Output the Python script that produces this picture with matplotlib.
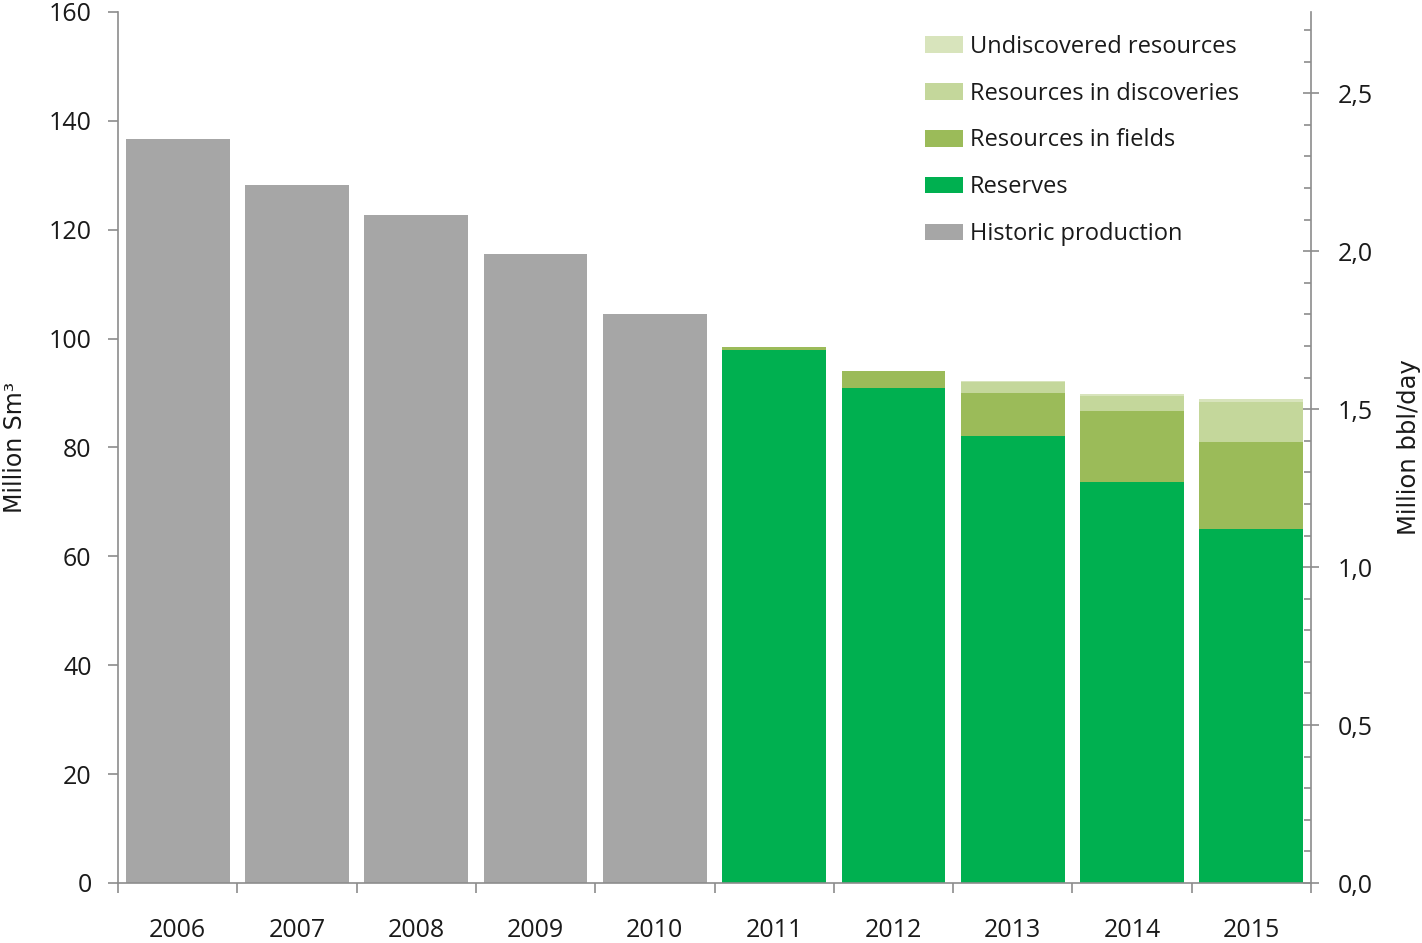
import matplotlib
matplotlib.use("Agg")
import matplotlib.pyplot as plt
from matplotlib.patches import Patch
from matplotlib.ticker import MultipleLocator, FuncFormatter, FixedLocator
import numpy as np

plt.rcParams['font.family'] = ['Open Sans', 'DejaVu Sans']

years = ["2006", "2007", "2008", "2009", "2010", "2011", "2012", "2013", "2014", "2015"]
historic = [136.7, 128.2, 122.7, 115.5, 104.5, 0, 0, 0, 0, 0]
reserves = [0, 0, 0, 0, 0, 97.9, 90.9, 82.1, 73.6, 65.1]
fields = [0, 0, 0, 0, 0, 0.6, 3.1, 7.95, 13.1, 16.0]
discoveries = [0, 0, 0, 0, 0, 0, 0, 1.95, 2.7, 7.2]
undiscovered = [0, 0, 0, 0, 0, 0, 0, 0.25, 0.4, 0.55]

# conversion from million Sm3 per year to million barrels per day
SM3_TO_BBL_DAY = 6.29 / 365.0

colors = {
    "Historic production": "#A6A6A6",
    "Reserves": "#00B050",
    "Resources in fields": "#9BBB59",
    "Resources in discoveries": "#C4D79B",
    "Undiscovered resources": "#D8E4BC",
}

fig = plt.figure(figsize=(14.22, 9.43), dpi=100)
ax = fig.add_axes([118 / 1422, 1 - 883 / 943, (1311 - 118) / 1422, (883 - 12) / 943])

x = np.arange(len(years))
w = 0.87
series = [
    ("Historic production", historic),
    ("Reserves", reserves),
    ("Resources in fields", fields),
    ("Resources in discoveries", discoveries),
    ("Undiscovered resources", undiscovered),
]
bottom = np.zeros(len(years))
for name, vals in series:
    vals = np.array(vals, dtype=float)
    ax.bar(x, vals, w, bottom=bottom, color=colors[name], linewidth=0, zorder=2)
    bottom += vals

axis_col = "#8C8C8C"
text_col = "#1a1a1a"
narrow = ["Liberation Sans Narrow", "DejaVu Sans"]

ax.set_xlim(-0.5, len(years) - 0.5)
ax.set_ylim(0, 160)
ax.spines["top"].set_visible(False)
ax.spines["right"].set_visible(False)
for s in ("left", "bottom"):
    ax.spines[s].set_color(axis_col)
    ax.spines[s].set_linewidth(1.2)

ax.yaxis.set_major_locator(MultipleLocator(20))
ax.tick_params(axis="y", direction="out", length=7, width=1.2, color=axis_col,
               labelsize=18, pad=12, labelcolor=text_col)
ax.set_xticks(x)
ax.set_xticklabels(years)
ax.xaxis.set_minor_locator(FixedLocator(np.arange(-0.5, len(years), 1.0)))
ax.tick_params(axis="x", which="major", length=0, labelsize=18, pad=25, labelcolor=text_col)
ax.tick_params(axis="x", which="minor", direction="out", length=7, width=1.2, color=axis_col)

ax.set_ylabel("Million Sm³", fontsize=17, family=narrow, color=text_col)
ax.yaxis.set_label_coords((27 - 118) / 1193, 0.5)

ax2 = ax.twinx()
ax2.set_ylim(0, 160 * SM3_TO_BBL_DAY)
for s in ("left", "top", "bottom"):
    ax2.spines[s].set_visible(False)
ax2.spines["right"].set_color(axis_col)
ax2.spines["right"].set_linewidth(1.2)
ax2.yaxis.set_major_locator(MultipleLocator(0.5))
ax2.yaxis.set_minor_locator(MultipleLocator(0.1))
ax2.yaxis.set_major_formatter(FuncFormatter(lambda v, p: f"{v:.1f}".replace(".", ",")))
ax2.tick_params(axis="y", which="major", direction="inout", length=11, width=1.2,
                color=axis_col, labelsize=18, pad=14, labelcolor=text_col)
ax2.tick_params(axis="y", which="minor", direction="in", length=5, width=1.2, color=axis_col)
ax2.set_ylabel("Million bbl/day", fontsize=17.5, family=narrow, color=text_col)
ax2.yaxis.set_label_coords((1397 - 118) / 1193, 0.5)

handles = [Patch(facecolor=colors[n], edgecolor="none", label=n) for n, _ in reversed(series)]
ax2.legend(handles=handles, loc="upper left", bbox_to_anchor=(790 / 1193, 0.993),
           frameon=False, fontsize=17, handlelength=1.65, handleheight=0.72,
           handletextpad=0.28, labelspacing=0.97, borderaxespad=0.3,
           labelcolor=text_col)

fig.savefig("out.png", dpi=100)
